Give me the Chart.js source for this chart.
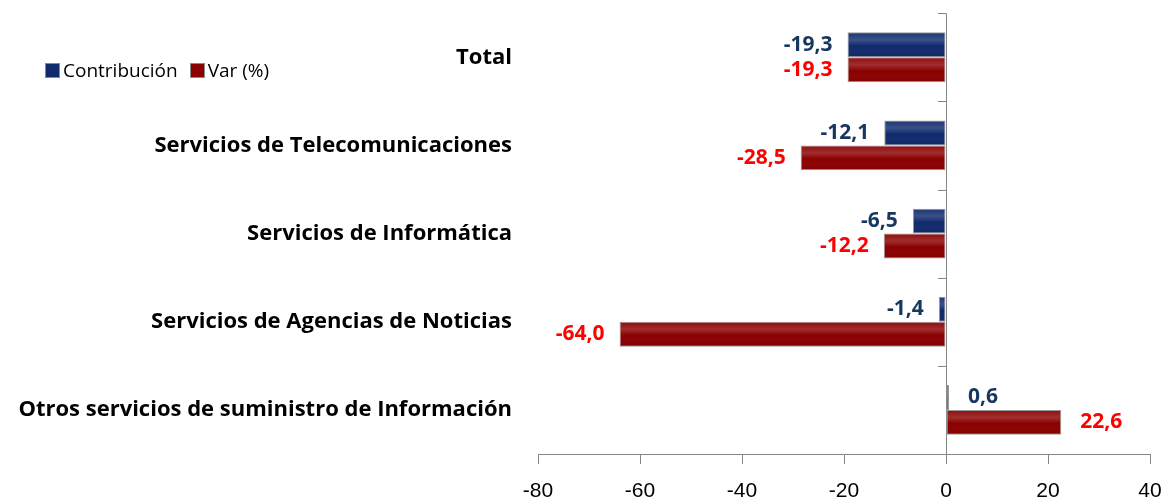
<!DOCTYPE html>
<html>
<head>
<meta charset="utf-8">
<script src="https://cdn.jsdelivr.net/npm/chart.js@4/dist/chart.umd.min.js"></script>
<style>
  html, body { margin: 0; padding: 0; background: #fff; }
  #wrap { position: relative; width: 1170px; height: 500px; }
  #legend { position: absolute; left: 45px; top: 57px; font: 19px "Open Sans", sans-serif; color: #000; white-space: nowrap; }
  #legend span.box { display: inline-block; width: 13px; height: 13px; border: 1px solid #8a8a8a; vertical-align: -1px; margin-right: 3px; }
  #legend span.item { margin-right: 12px; }
</style>
</head>
<body>
<div id="wrap">
  <canvas id="chart" width="1170" height="500"></canvas>
  <div id="legend"></div>
</div>
<script>
// Data
const categories = [
    'Total',
    'Servicios de Telecomunicaciones',
    'Servicios de Informática',
    'Servicios de Agencias de Noticias',
    'Otros servicios de suministro de Información'
];
const contribucion = [-19.3, -12.1, -6.5, -1.4, 0.6];
const variacion = [-19.3, -28.5, -12.2, -64.0, 22.6];
const xTicks = [-80, -60, -40, -20, 0, 20, 40];

const seriesNames = ['Contribución', 'Var (%)'];
const barColors = ['#102a6c', '#8b0000'];
const labelColors = ['#17375e', '#ff0000'];
const axisColor = '#868686';

function fmt(v) {
    return v.toFixed(1).replace('.', ',');
}

// value labels beside each bar
const valueLabels = {
    id: 'valueLabels',
    afterDatasetsDraw(chart) {
        const ctx = chart.ctx;
        ctx.save();
        ctx.font = 'bold 21px "Open Sans", sans-serif';
        ctx.textBaseline = 'middle';
        chart.data.datasets.forEach((ds, di) => {
            const meta = chart.getDatasetMeta(di);
            meta.data.forEach((el, i) => {
                const v = ds.data[i];
                ctx.fillStyle = labelColors[di];
                if (v < 0) {
                    ctx.textAlign = 'right';
                    ctx.fillText(fmt(v), el.x - 15, el.y);
                } else {
                    ctx.textAlign = 'left';
                    ctx.fillText(fmt(v), el.x + 19, el.y);
                }
            });
        });
        ctx.restore();
    }
};

// glossy highlight over bars
const barShine = {
    id: 'barShine',
    afterDatasetsDraw(chart) {
        const ctx = chart.ctx;
        ctx.save();
        chart.data.datasets.forEach((ds, di) => {
            chart.getDatasetMeta(di).data.forEach(el => {
                const left = Math.min(el.x, el.base), right = Math.max(el.x, el.base);
                const top = el.y - el.height / 2, h = el.height;
                const g = ctx.createLinearGradient(0, top, 0, top + h);
                g.addColorStop(0, 'rgba(255,255,255,0.05)');
                g.addColorStop(0.3, 'rgba(255,255,255,0.18)');
                g.addColorStop(0.55, 'rgba(255,255,255,0)');
                g.addColorStop(1, 'rgba(0,0,0,0.08)');
                ctx.fillStyle = g;
                ctx.fillRect(left + 1, top + 1, right - left - 2, h - 2);
            });
        });
        ctx.restore();
    }
};

// small tick marks on the zero axis between categories
const zeroAxisTicks = {
    id: 'zeroAxisTicks',
    afterDraw(chart) {
        const x0 = chart.scales.x.getPixelForValue(0);
        const ys = chart.scales.y;
        const ctx = chart.ctx;
        ctx.save();
        ctx.strokeStyle = axisColor;
        ctx.lineWidth = 1;
        ctx.beginPath();
        for (let i = 0; i < categories.length; i++) {
            const y = Math.round(ys.getPixelForTick(i) - (ys.getPixelForTick(1) - ys.getPixelForTick(0)) / 2) + 0.5;
            ctx.moveTo(x0 - 8, y);
            ctx.lineTo(x0, y);
        }
        ctx.stroke();
        ctx.restore();
    }
};

new Chart(document.getElementById('chart').getContext('2d'), {
    type: 'bar',
    data: {
        labels: categories,
        datasets: [
            { label: seriesNames[0], data: contribucion, backgroundColor: barColors[0], borderColor: '#9a9a9a', borderWidth: 1, borderSkipped: false },
            { label: seriesNames[1], data: variacion, backgroundColor: barColors[1], borderColor: '#9a9a9a', borderWidth: 1, borderSkipped: false }
        ]
    },
    options: {
        indexAxis: 'y',
        responsive: false,
        animation: false,
        layout: { padding: { left: 10, right: 20, top: 12, bottom: 0 } },
        datasets: { bar: { categoryPercentage: 0.565, barPercentage: 1 } },
        plugins: {
            legend: { display: false },
            tooltip: { enabled: false }
        },
        scales: {
            x: {
                min: -80,
                max: 40,
                afterBuildTicks: s => { s.ticks = xTicks.map(v => ({ value: v })); },
                afterFit: s => { s.height = 46; s.paddingRight = 12; },
                border: { display: true, color: axisColor },
                grid: {
                    color: c => (c.tick && c.tick.value === 0) ? axisColor : 'rgba(0,0,0,0)',
                    tickColor: axisColor,
                    tickLength: 10
                },
                ticks: {
                    color: '#000',
                    padding: 15,
                    font: { family: '"Liberation Sans", sans-serif', size: 21 }
                }
            },
            y: {
                afterFit: s => { s.width = 528; },
                border: { display: false },
                grid: {
                    display: true,
                    drawOnChartArea: false,
                    drawTicks: true,
                    tickLength: 26,
                    color: 'rgba(0,0,0,0)'
                },
                ticks: {
                    color: '#000',
                    padding: 0,
                    font: { family: '"Open Sans", sans-serif', size: 22, weight: 'bold' }
                }
            }
        }
    },
    plugins: [barShine, valueLabels, zeroAxisTicks]
});

// legend drawn as html text
const legendEl = document.getElementById('legend');
seriesNames.forEach((name, i) => {
    const item = document.createElement('span');
    item.className = 'item';
    const box = document.createElement('span');
    box.className = 'box';
    box.style.background = barColors[i];
    item.appendChild(box);
    item.appendChild(document.createTextNode(name));
    legendEl.appendChild(item);
});
</script>
</body>
</html>
